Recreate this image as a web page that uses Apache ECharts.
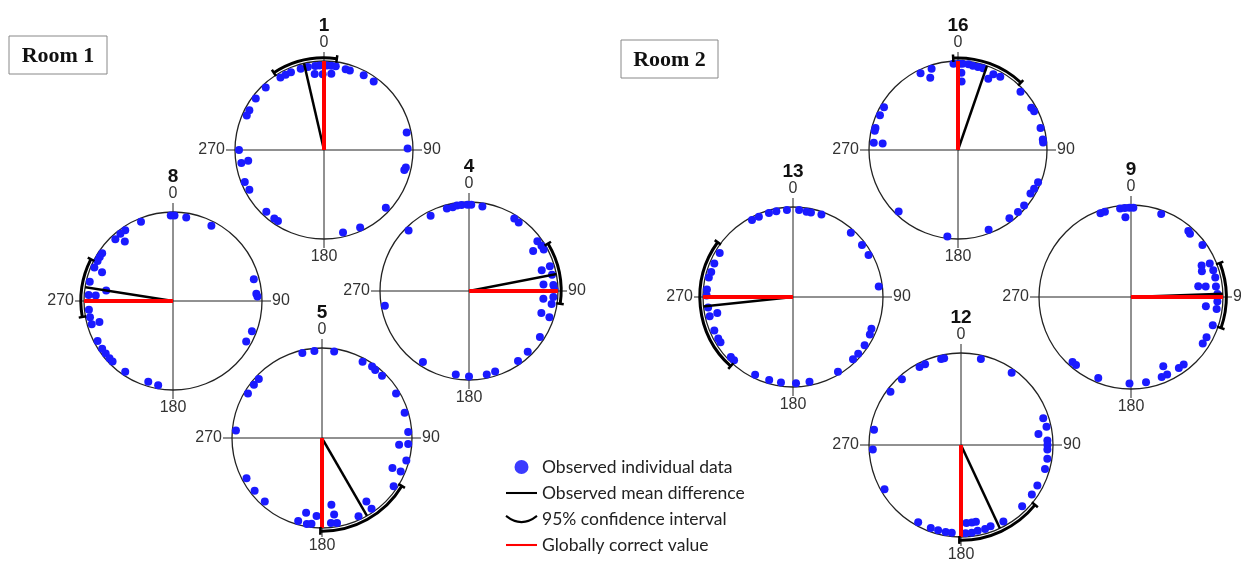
<!DOCTYPE html>
<html><head><meta charset="utf-8">
<script src="https://cdn.jsdelivr.net/npm/echarts@6/dist/echarts.min.js"></script>
<style>html,body{margin:0;padding:0;background:#fff}#c{width:1241px;height:565px}</style>
</head><body><div id="c"></div>
<script>
// ---------- DATA ----------
const plotLabels = ['1', '8', '4', '5', '16', '13', '9', '12'];
const roomLabels = ['Room 1', 'Room 2'];
const tickLabels = { 0: '0', 90: '90', 180: '180', 270: '270' };
const seriesNames = ['Observed individual data', 'Observed mean difference', '95% confidence interval', 'Globally correct value'];

// observed individual data: [angle (deg), relative radius]
const obs1 = [[329,0.95],[333,0.95],[337,0.95],[344,0.95],[349,0.95],[354,0.95],[357,0.95],[2,0.95],[5,0.95],[8,0.95],[353,0.86],[359,0.85],[5.5,0.86],[15,0.94],[18,0.94],[28,0.95],[36,0.95],[317,0.96],[307,0.96],[298,0.95],[294,0.95],[270,0.955],[261,0.94],[262,0.86],[248,0.96],[242,0.95],[223,0.95],[216,0.95],[213,0.95],[167,0.95],[155,0.96],[133,0.95],[78,0.95],[89,0.94],[102,0.94],[104,0.93]];
const obs8 = [[358.5,0.96],[1,0.96],[9,0.95],[27,0.95],[338,0.96],[326,0.96],[322,0.96],[317,0.95],[321,0.86],[304,0.96],[301,0.96],[298,0.96],[293,0.96],[292,0.86],[283,0.96],[279,0.76],[274,0.95],[274,0.87],[264,0.95],[259,0.95],[254,0.95],[254,0.86],[242,0.96],[236,0.96],[232,0.96],[228,0.96],[225,0.96],[214,0.96],[197,0.95],[190,0.96],[75,0.94],[85,0.94],[87,0.95],[111,0.95],[119,0.94]];
const obs4 = [[345,0.96],[349,0.96],[352,0.97],[355,0.97],[359,0.97],[1.5,0.97],[9,0.96],[333,0.95],[315,0.96],[32,0.96],[36,0.95],[54,0.95],[58,0.96],[61,0.96],[58,0.85],[74,0.85],[73,0.95],[79,0.95],[85,0.84],[86,0.95],[89,0.96],[94,0.95],[96,0.84],[99,0.94],[107,0.85],[108,0.95],[123,0.95],[136,0.95],[145,0.96],[162,0.95],[168,0.96],[180,0.96],[189,0.95],[213,0.95],[260,0.96]];
const obs5 = [[347,0.97],[355,0.97],[8,0.97],[28,0.96],[35,0.97],[38,0.96],[44,0.96],[59,0.96],[73,0.96],[86,0.96],[95,0.86],[94,0.96],[105,0.97],[113,0.85],[113,0.95],[124,0.96],[145,0.86],[145,0.96],[155,0.96],[172,0.75],[171,0.86],[170,0.96],[174,0.95],[192,0.85],[196,0.96],[190,0.97],[187,0.96],[184,0.87],[242,0.95],[232,0.95],[222,0.95],[275,0.96],[301,0.96],[308,0.96],[313,0.96]];
const obs16 = [[357,0.97],[1,0.97],[3,0.97],[7,0.97],[10,0.96],[13.5,0.96],[17,0.96],[23,0.87],[25,0.94],[30,0.95],[2.5,0.87],[3,0.77],[342,0.96],[334,0.96],[339,0.87],[300,0.96],[294,0.96],[285,0.96],[283,0.96],[275,0.95],[275,0.85],[224,0.96],[187,0.98],[159,0.96],[143,0.96],[136,0.97],[130,0.97],[121,0.95],[117,0.96],[112,0.97],[47,0.96],[60,0.95],[63,0.96],[75,0.96],[83,0.96],[85,0.96]];
const obs13 = [[332,0.97],[337,0.97],[344,0.97],[349,0.97],[356,0.97],[4,0.97],[9,0.96],[12,0.96],[19,0.97],[42,0.96],[53,0.96],[61,0.96],[83,0.96],[112,0.94],[116,0.95],[124,0.96],[131,0.96],[136,0.96],[149,0.97],[169,0.96],[178,0.96],[188,0.96],[196,0.96],[206,0.96],[223,0.96],[226,0.96],[238,0.95],[241,0.95],[247,0.95],[258,0.86],[257,0.95],[263,0.95],[271,0.96],[275,0.96],[283,0.96],[287,0.95],[293,0.95],[301,0.95]];
const obs9 = [[340,0.97],[343,0.97],[353,0.97],[356,0.97],[359,0.97],[1.5,0.97],[356,0.87],[20,0.96],[41,0.95],[43,0.94],[54,0.96],[66,0.84],[70,0.82],[67,0.93],[72,0.94],[77,0.94],[81,0.74],[82,0.82],[83,0.93],[88,0.94],[93,0.94],[98,0.94],[97,0.82],[109,0.94],[118,0.93],[123,0.93],[142,0.93],[146,0.93],[155,0.93],[155,0.83],[159,0.93],[170,0.94],[181,0.94],[202,0.95],[222,0.95],[219,0.95]];
const obs12 = [[347,0.96],[349,0.96],[336,0.96],[332,0.96],[13,0.96],[35,0.96],[318,0.96],[307,0.96],[280,0.96],[267,0.96],[240,0.96],[209,0.96],[200,0.96],[195,0.96],[190,0.96],[186,0.96],[177,0.96],[173,0.96],[169,0.95],[164,0.95],[160,0.94],[176,0.85],[172,0.85],[169,0.85],[151,0.95],[135,0.94],[125,0.94],[118,0.94],[72,0.94],[78,0.95],[82,0.85],[87,0.94],[90,0.94],[93,0.94],[99,0.95],[106,0.95]];
const observed = [obs1, obs8, obs4, obs5, obs16, obs13, obs9, obs12];

const meanAngles    = [347, 279, 79, 150, 19, 264, 88, 155];
const correctAngles = [0, 270, 90, 180, 0, 270, 90, 180];
const ciLower       = [327, 260, 59, 121, 357, 222, 69, 129];
const ciUpper       = [8, 297, 98, 181, 43, 306, 109, 181];

// ---------- LAYOUT (positions / sizes only) ----------
const layout = [[324,150,89],[173,301,89],[469,291,89],[322,438,90],[958,150,89],[793,297,90],[1131,297,92],[961,445,92]];
const CI_R = 1.035, TICK_IN = 0.99, TICK_OUT = 1.075, MEAN_R = 1.035, CORRECT_R = 1.02;

const chart = echarts.init(document.getElementById('c'), null, { renderer: 'canvas' });
const polar = [], angleAxis = [], radiusAxis = [], series = [], graphic = [];

function renderCI(params, api) {
  const lo = api.value(0), hi = api.value(1);
  const c = api.coord([0, lo]);
  const pLo = api.coord([CI_R, lo]), pHi = api.coord([CI_R, hi]);
  const R = Math.hypot(pLo[0] - c[0], pLo[1] - c[1]);
  const a0 = Math.atan2(pLo[1] - c[1], pLo[0] - c[0]);
  const a1 = Math.atan2(pHi[1] - c[1], pHi[0] - c[0]);
  const t0a = api.coord([TICK_IN, lo]), t0b = api.coord([TICK_OUT, lo]);
  const t1a = api.coord([TICK_IN, hi]), t1b = api.coord([TICK_OUT, hi]);
  return { type: 'group', children: [
    { type: 'arc', shape: { cx: c[0], cy: c[1], r: R, startAngle: a0, endAngle: a1, clockwise: true }, style: { stroke: '#000', fill: null, lineWidth: 3 } },
    { type: 'line', shape: { x1: t0a[0], y1: t0a[1], x2: t0b[0], y2: t0b[1] }, style: { stroke: '#000', lineWidth: 2.5 } },
    { type: 'line', shape: { x1: t1a[0], y1: t1a[1], x2: t1b[0], y2: t1b[1] }, style: { stroke: '#000', lineWidth: 2.5 } }
  ]};
}

layout.forEach(([cx, cy, r], i) => {
  polar.push({ center: [cx, cy], radius: r });
  angleAxis.push({
    polarIndex: i, type: 'value', min: 0, max: 360, interval: 90, startAngle: 90, clockwise: true,
    axisLine: { lineStyle: { color: '#222', width: 1.3 } },
    axisTick: { show: true, inside: false, length: 9, lineStyle: { color: '#222', width: 1 } },
    axisLabel: { show: true, margin: 10, formatter: v => (tickLabels[v] !== undefined ? tickLabels[v] : ''), fontSize: 16, color: '#333', fontFamily: 'Liberation Sans' },
    splitLine: { show: true, lineStyle: { color: '#222', width: 1 } }
  });
  radiusAxis.push({ polarIndex: i, type: 'value', min: 0, max: 1, show: false });

  series.push({
    type: 'scatter', name: seriesNames[0], coordinateSystem: 'polar', polarIndex: i,
    symbolSize: 8, itemStyle: { color: '#1a1aff', opacity: 1 }, z: 3, silent: true,
    data: observed[i].map(([a, rr]) => [rr, a])
  });
  series.push({
    type: 'line', name: seriesNames[1], coordinateSystem: 'polar', polarIndex: i,
    symbol: 'none', clip: false, silent: true, z: 4,
    itemStyle: { color: '#000' }, lineStyle: { color: '#000', width: 2.5 },
    data: [[0, meanAngles[i]], [MEAN_R, meanAngles[i]]]
  });
  series.push({
    type: 'line', name: seriesNames[3], coordinateSystem: 'polar', polarIndex: i,
    symbol: 'none', clip: false, silent: true, z: 5,
    itemStyle: { color: '#ff0000' }, lineStyle: { color: '#ff0000', width: 4 },
    data: [[0, correctAngles[i]], [CORRECT_R, correctAngles[i]]]
  });
  series.push({
    type: 'custom', name: seriesNames[2], coordinateSystem: 'polar', polarIndex: i,
    z: 6, silent: true, itemStyle: { color: '#000' },
    renderItem: renderCI,
    data: [[ciLower[i], ciUpper[i]]]
  });

  graphic.push({
    type: 'text', x: cx, y: cy - r - 35, silent: true,
    style: { text: plotLabels[i], align: 'center', verticalAlign: 'middle', font: 'bold 19px "Liberation Sans"', fill: '#111' }
  });
});

// room boxes
[[9, 36, 98, 38], [621, 40, 97, 38]].forEach(([x, y, w, h], k) => {
  graphic.push({ type: 'rect', x: x, y: y, shape: { width: w, height: h }, style: { fill: '#fff', stroke: '#888', lineWidth: 1 }, silent: true });
  graphic.push({ type: 'text', x: x + w / 2, y: y + h / 2 + 1, silent: true,
    style: { text: roomLabels[k], align: 'center', verticalAlign: 'middle', font: 'bold 22px "Liberation Serif"', fill: '#111' } });
});

chart.setOption({
  animation: false,
  backgroundColor: '#fff',
  polar, angleAxis, radiusAxis, series, graphic,
  legend: {
    orient: 'vertical', left: 505, top: 458, padding: 0, itemWidth: 31, itemHeight: 14, itemGap: 8,
    height: 110, selectedMode: false, symbolKeepAspect: true,
    textStyle: { fontSize: 17.5, fontFamily: 'Lato', color: '#222' },
    data: [
      { name: seriesNames[0], icon: 'circle', itemStyle: { color: '#3b3bff' } },
      { name: seriesNames[1], icon: 'path://M0,0L30,0L30,2L0,2Z', itemStyle: { color: '#000' } },
      { name: seriesNames[2], icon: 'path://M0,0 Q15,12 30,0', itemStyle: { color: 'rgba(0,0,0,0)', borderColor: '#000', borderWidth: 2 } },
      { name: seriesNames[3], icon: 'path://M0,0L30,0L30,2L0,2Z', itemStyle: { color: '#ff0000' } }
    ]
  }
});
</script>
</body></html>
